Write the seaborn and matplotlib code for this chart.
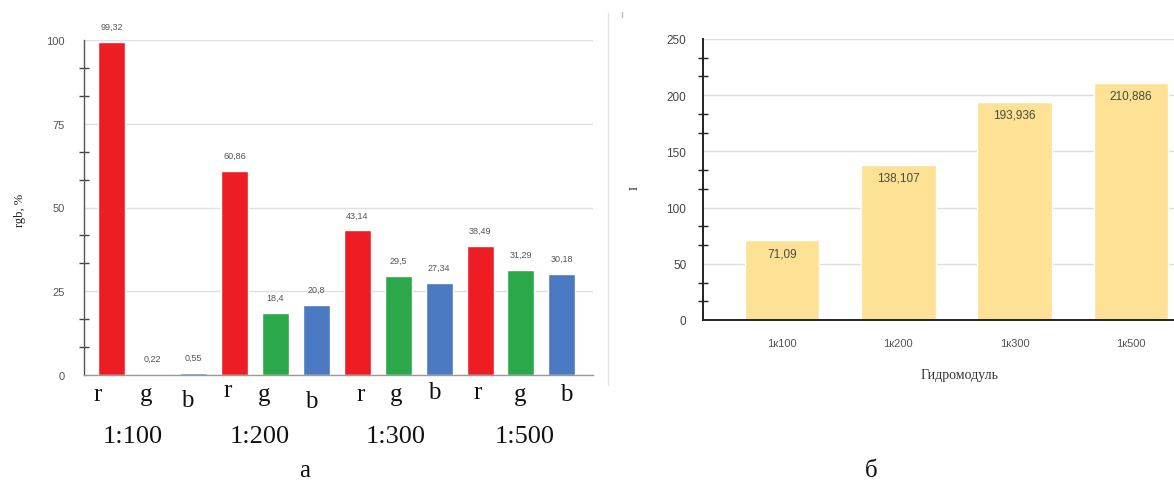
import matplotlib
matplotlib.use("Agg")
import matplotlib.pyplot as plt
import matplotlib.ticker as mticker
import matplotlib.lines as mlines
import pandas as pd
import seaborn as sns

# ---------------- data ----------------
ratios = ["1:100", "1:200", "1:300", "1:500"]
channels = ["r", "g", "b"]
r_vals = [99.32, 60.86, 43.14, 38.49]
g_vals = [0.22, 18.4, 29.5, 31.29]
b_vals = [0.55, 20.8, 27.34, 30.18]

modules = ["1к100", "1к200", "1к300", "1к500"]
I_vals = [71.09, 138.107, 193.936, 210.886]

# ---------------- style ----------------
chan_colors = {"r": "#EE1D23", "g": "#2BA84A", "b": "#4A79C1"}
yellow = "#FDE194"
sans = ["Liberation Sans", "DejaVu Sans"]
serif = ["Liberation Serif", "DejaVu Serif"]

sns.set_theme(style="white")
plt.rcParams["font.family"] = sans

W, H = 1174, 481
fig = plt.figure(figsize=(W / 100, H / 100), dpi=100)

def fx(px):
    return px / W

def fy(py):
    return 1 - py / H

# ---------------- left panel ----------------
rows = []
for i, ratio in enumerate(ratios):
    for ch, vals in zip(channels, [r_vals, g_vals, b_vals]):
        rows.append({"id": f"{ch} {ratio}", "channel": ch, "ratio": ratio, "value": vals[i]})
df = pd.DataFrame(rows)

axL = fig.add_axes([fx(84), fy(376), fx(593) - fx(84), fy(41) - fy(376)])
sns.barplot(data=df, x="id", y="value", hue="channel", palette=chan_colors,
            dodge=False, width=0.66, saturation=1, legend=False, ax=axL)
axL.set_ylim(0, 100)
axL.set_xlim(-0.68, len(df) - 1 + 0.76)
axL.set_yticks([0, 25, 50, 75, 100])
axL.yaxis.set_minor_locator(mticker.MultipleLocator(25 / 3))
axL.tick_params(axis="y", which="major", length=0, pad=14, labelsize=8, labelcolor="#555555")
axL.tick_params(axis="y", which="minor", length=7, width=1, direction="inout", color="#444444", left=True)
axL.set_xticks([])
axL.set_xlabel("")
axL.set_ylabel("")
axL.grid(axis="y", color="#e0e0e0", linewidth=1)
axL.set_axisbelow(True)
for s in ["top", "right"]:
    axL.spines[s].set_visible(False)
axL.spines["left"].set_color("#555555")
axL.spines["left"].set_linewidth(1)
axL.spines["bottom"].set_color("#999999")
axL.spines["bottom"].set_linewidth(1)

for i, v in enumerate(df["value"]):
    axL.annotate(f"{v:g}".replace(".", ","), (i, v), xytext=(0, 8), textcoords="offset points",
                 ha="center", va="bottom", fontsize=6.5, color="#555555")

# channel letters below bars (small hand-set offsets, as in the original figure)
letter_dx = [-0.35, -0.17, -0.15, -0.17, -0.27, -0.12, 0.07, -0.05, -0.12, -0.07, -0.02, 0.1]
letter_dy_px = [0, 0, -6, 4, 0, -7, 0, 0, 2, 2, 0, 0]
xt = axL.get_xaxis_transform()
for i, ch in enumerate(df["channel"]):
    axL.text(i + letter_dx[i], -0.058 + letter_dy_px[i] / 335, ch, transform=xt,
             ha="center", va="center", fontsize=18, family=serif, color="#111111")

group_dx = [-0.49, -0.39, -0.07, 0.1]
for gi, ratio in enumerate(ratios):
    axL.text(gi * 3 + 1 + group_dx[gi], -0.182, ratio, transform=xt, ha="center", va="center",
             fontsize=19, family=serif, color="#111111")

fig.text(fx(20), fy(210), "rgb, %", rotation=90, ha="center", va="center", fontsize=9,
         family=serif, color="#222222")

# ---------------- right panel ----------------
axR = fig.add_axes([fx(703), fy(321), 1 - fx(703), fy(40) - fy(321)])
sns.barplot(x=modules, y=I_vals, color=yellow, width=0.64, saturation=1, ax=axR)
axR.set_ylim(0, 250)
axR.set_xlim(-0.68, 3.37)
axR.set_yticks([0, 50, 100, 150, 200, 250])
axR.yaxis.set_minor_locator(mticker.MultipleLocator(50 / 3))
axR.tick_params(axis="y", which="major", length=0, pad=12, labelsize=8.5, labelcolor="#444444")
axR.tick_params(axis="y", which="minor", length=7, width=1, direction="inout", color="#222222", left=True)
axR.tick_params(axis="x", length=0, pad=13, labelsize=8, labelcolor="#555555")
axR.set_xlabel("")
axR.set_ylabel("")
axR.grid(axis="y", color="#dddddd", linewidth=1)
axR.set_axisbelow(True)
for s in ["top", "right"]:
    axR.spines[s].set_visible(False)
for s in ["left", "bottom"]:
    axR.spines[s].set_color("#222222")
    axR.spines[s].set_linewidth(1.4)

for i, v in enumerate(I_vals):
    axR.annotate(f"{v:g}".replace(".", ","), (i, v), xytext=(0, -5), textcoords="offset points",
                 ha="center", va="top", fontsize=8.5, color="#4a4a3a")

fig.text(fx(635), fy(188), "I", rotation=90, ha="center", va="center", fontsize=9,
         family=serif, color="#222222")
fig.text(fx(960), fy(376), "Гидромодуль", ha="center", va="center", fontsize=10,
         family=serif, color="#333333")

# separator & captions
fig.add_artist(mlines.Line2D([fx(608), fx(608)], [fy(14), fy(386)], color="#e2e2e2", linewidth=1))
fig.add_artist(mlines.Line2D([fx(622), fx(622)], [fy(13), fy(18)], color="#bbbbbb", linewidth=1))
fig.text(fx(305), fy(471), "a", ha="center", va="center", fontsize=18, family=serif, color="#111111")
fig.text(fx(871), fy(471), "б", ha="center", va="center", fontsize=18, family=serif, color="#111111")

fig.savefig("out.png", dpi=100)
